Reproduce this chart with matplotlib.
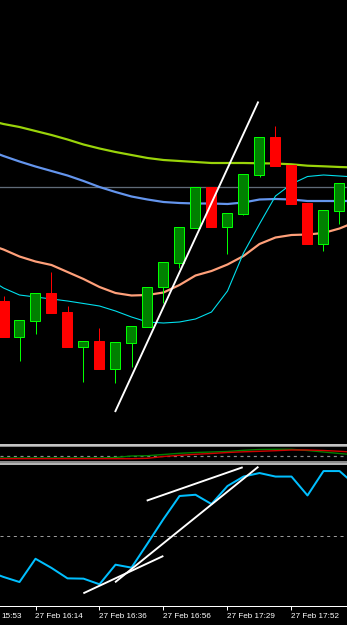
import matplotlib
matplotlib.use('Agg')
import matplotlib.pyplot as plt
from matplotlib.patches import Rectangle
import numpy as np

plt.rcParams['lines.scale_dashes'] = False

# ---------------- data ----------------
bars = list(range(22))
opens  = [199, 163, 179, 207, 188, 153, 159, 131, 157, 173, 213, 237, 272, 313, 273, 286, 325, 363, 335, 297, 256, 289]
highs  = [204, 180, 207, 228, 194, 159, 172, 158, 174, 213, 238, 273, 313, 313, 287, 326, 363, 374, 335, 297, 290, 317]
lows   = [163, 139, 166, 187, 153, 118, 131, 117, 133, 173, 197, 232, 272, 273, 246, 285, 323, 334, 296, 256, 249, 276]
closes = [163, 180, 207, 187, 153, 159, 131, 158, 174, 213, 238, 273, 313, 273, 287, 326, 363, 334, 296, 256, 290, 317]

ma_idx = list(range(-1, 23))
ma_slow = [380, 376, 373, 369, 365, 360.5, 355.5, 351.5, 348, 345, 342, 340, 339, 338, 337, 337, 337,
           336.7, 336.5, 335.7, 334.3, 333.7, 333, 332.5]
ma_mid = [350, 344, 338.5, 333.5, 329, 324.5, 319, 313, 308, 303.5, 300.5, 298, 297, 296.5, 296.5, 296,
          297.5, 300.5, 301, 300.5, 299, 299, 299, 299]
ma_fast = [256, 250.5, 243.5, 238.5, 235, 228, 221, 213, 207, 204.5, 205, 207.5, 215, 224.5, 229, 235.5,
           244, 256, 262.5, 265, 265.5, 267, 271.5, 278]
ma_cyan = [222, 212, 205, 203, 201, 199, 196.5, 194, 189, 183, 178, 177, 178, 181, 188, 209, 247, 276,
           304, 316, 323.5, 325, 324, 323]
level_price = 313.3

trend_main_x = [6.97, 15.93]
trend_main_y = [88, 398.5]

# middle indicator (two lines)
mid_green = [-2, -2, -2, -2, -2, -2, -2, -2, -1.5, 0, 0.3, 1.5, 2.7, 3.5, 4, 4.5, 5.7, 6.5, 6.7, 6.7,
             5.5, 4, 2.5, 1]
mid_red = [-2.7, -2.7, -2.7, -2.7, -2.7, -2.7, -2.7, -2.7, -2.7, -2.7, -2.3, -0.5, 0.7, 1.7, 2.5, 3.5,
           4.2, 4.7, 5.3, 6, 6, 5.5, 4.7, 3.7]
mid_level = 0

# oscillator
osc = [24.8, 20.6, 17.0, 33.5, 27.0, 19.6, 19.4, 15.4, 29.3, 27.2, 44.3, 61.7, 78.0, 78.9, 72.3, 85.1,
       91.8, 94.3, 91.8, 91.8, 78.4, 95.7, 95.7, 85.8]
osc_level = 50
osc_lines = [([4.99, 9.99], [9.0, 35.5]),
             ([6.97, 15.93], [16.8, 98.8]),
             ([8.95, 14.95], [74.7, 98.4])]

tick_bars = [-0.09, 2, 6, 10, 14, 18]
tick_labels = ['15:53', '27 Feb 16:14', '27 Feb 16:36', '27 Feb 16:56', '27 Feb 17:29', '27 Feb 17:52']

# ---------------- figure ----------------
W, H = 347, 625
fig = plt.figure(figsize=(W / 100, H / 100), dpi=100, facecolor='black')

def fax(top, bottom):
    return fig.add_axes([0, (H - bottom) / H, 1, (bottom - top) / H], facecolor='black')

ax = fax(0, 443)
axm = fax(447, 461)
axb = fax(465, 606)

xlim = (-0.21875, 21.46875)
for a in (ax, axm, axb):
    a.set_xlim(*xlim)
    for s in a.spines.values():
        s.set_visible(False)
    a.set_yticks([])
    a.tick_params(axis='x', bottom=False, labelbottom=False)

PX = 0.72  # one pixel in points

# main panel
ax.set_ylim(57, 500)
ax.axhline(level_price, color='#5f6b78', lw=1.3 * PX, zorder=1)
ax.plot(ma_idx, ma_slow, color='#9ad40a', lw=2.2 * PX, zorder=2)
ax.plot(ma_idx, ma_mid, color='#6495ed', lw=2.2 * PX, zorder=2)
ax.plot(ma_idx, ma_fast, color='#ffa07a', lw=2.2 * PX, zorder=2)
ax.plot(ma_idx, ma_cyan, color='#00e0ee', lw=1.1 * PX, zorder=2)

o = np.array(opens, float); c = np.array(closes, float)
hi = np.array(highs, float); lo = np.array(lows, float)
x = np.array(bars, float)
up = c >= o
ax.vlines(x[up], lo[up], hi[up], color='#00ff00', lw=1.0 * PX, zorder=3)
ax.vlines(x[~up], lo[~up], hi[~up], color='#ff0000', lw=1.0 * PX, zorder=3)
ax.bar(x[up], (c - o)[up], bottom=o[up], width=10 / 16, color='#008000', edgecolor='#00ff00',
       linewidth=1.0 * PX, zorder=4)
ax.bar(x[~up], (c - o)[~up], bottom=o[~up], width=10 / 16, color='#ff0000', edgecolor='#ff0000',
       linewidth=1.0 * PX, zorder=4)

ax.plot(trend_main_x, trend_main_y, color='white', lw=1.9 * PX, zorder=5, solid_capstyle='butt')

# middle panel
axm.set_ylim(-5, 9)
axm.axhline(mid_level, color='#8c8c8c', lw=1.2 * PX, dashes=(2.2, 2.6))
axm.plot(ma_idx, mid_green, color='#008000', lw=1.4 * PX)
axm.plot(ma_idx, mid_red, color='#d00000', lw=1.4 * PX)

# bottom oscillator
axb.set_ylim(0, 100)
axb.axhline(osc_level, color='#9a9a9a', lw=1.0 * PX, dashes=(2.2, 2.6))
axb.plot(ma_idx, osc, color='#00bfff', lw=2.0 * PX, zorder=2)
for lx, ly in osc_lines:
    axb.plot(lx, ly, color='white', lw=1.9 * PX, zorder=3, solid_capstyle='butt')

axb.spines['bottom'].set_visible(True)
axb.spines['bottom'].set_color('white')
axb.spines['bottom'].set_linewidth(1.0 * PX)
axb.set_xticks([t for t in tick_bars[1:]])
axb.tick_params(axis='x', bottom=True, labelbottom=False, direction='out', length=4 * PX,
                width=1.0 * PX, color='white')
trans = axb.get_xaxis_transform()
for t, lab in zip(tick_bars, tick_labels):
    axb.text(t - 0.06, -6.5 / 141, lab, transform=trans, ha='left', va='top', color='white',
             fontsize=5.9, family=['Liberation Sans', 'DejaVu Sans'], clip_on=False)

# separators between panels
def band(top, bottom, color):
    fig.add_artist(Rectangle((0, (H - bottom) / H), 1, (bottom - top) / H,
                             transform=fig.transFigure, color=color, lw=0))

band(444, 445.7, '#c4c4c4')
band(445.7, 447, '#8a8a8a')
band(461, 462.7, '#8a8a8a')
band(462.7, 465, '#b4b4b4')

fig.savefig('out.png', dpi=100, facecolor='black')
